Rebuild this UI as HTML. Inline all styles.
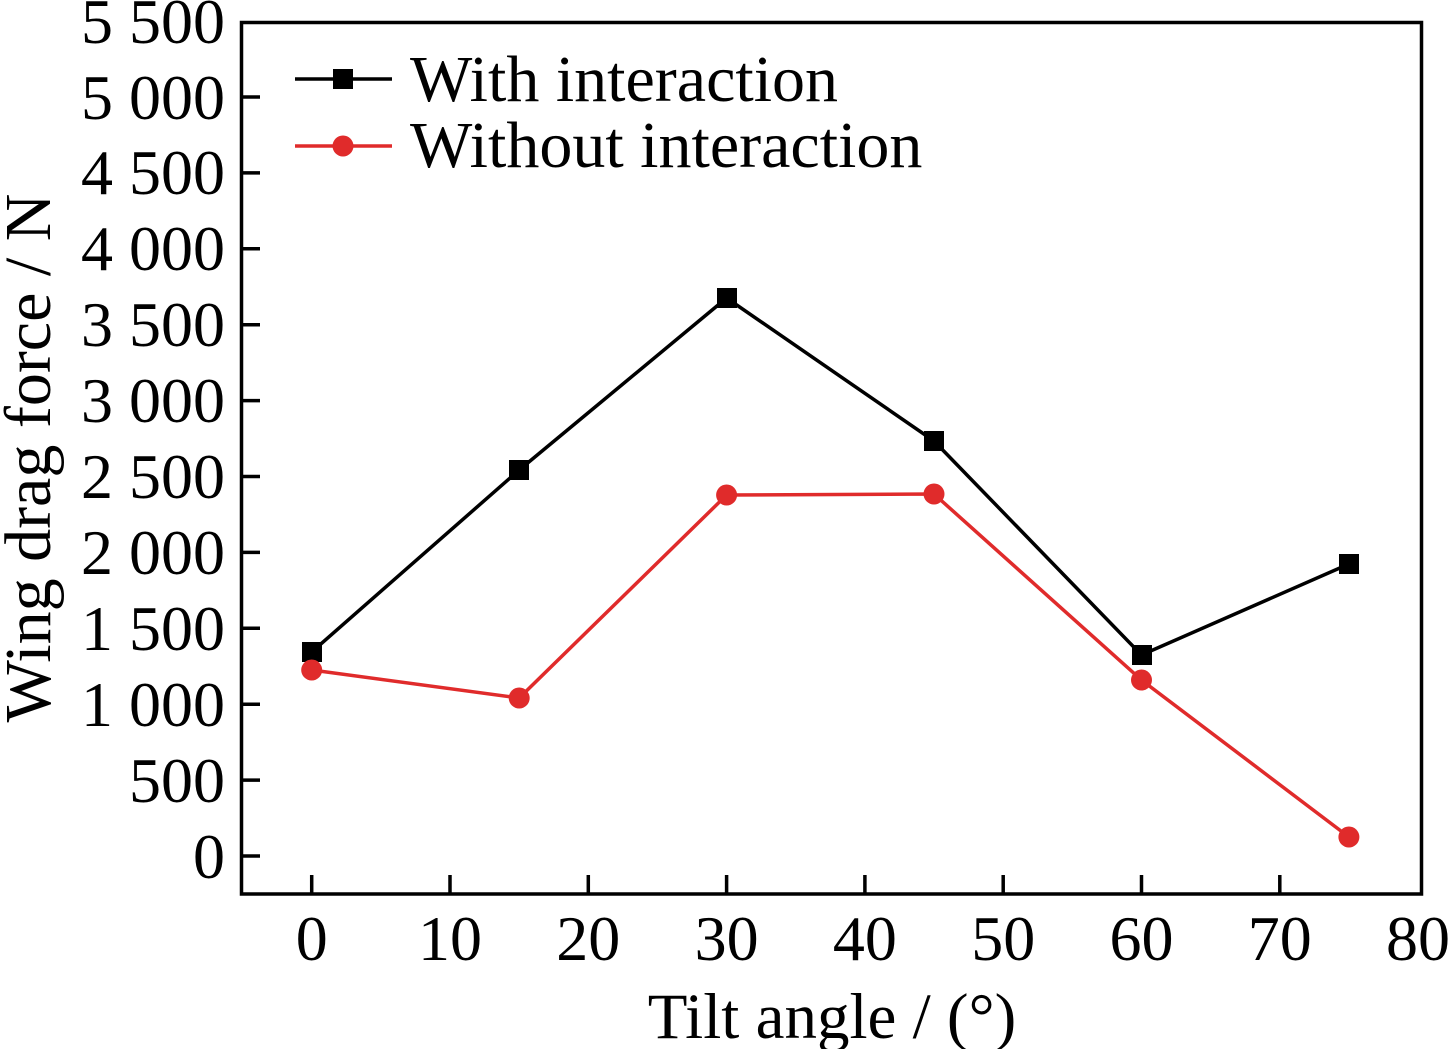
<!DOCTYPE html>
<html><head><style>body{margin:0;background:#fff}</style></head><body>
<svg width="1453" height="1049" xmlns="http://www.w3.org/2000/svg" font-family="Liberation Serif, serif">
<rect x="241.5" y="22.5" width="1180" height="871.5" fill="none" stroke="#000" stroke-width="3.5"/>
<g stroke="#000" stroke-width="3.5">
<line x1="241" y1="856" x2="260" y2="856"/><line x1="241" y1="780.1" x2="260" y2="780.1"/><line x1="241" y1="704.2" x2="260" y2="704.2"/><line x1="241" y1="628.3" x2="260" y2="628.3"/><line x1="241" y1="552.4" x2="260" y2="552.4"/><line x1="241" y1="476.5" x2="260" y2="476.5"/><line x1="241" y1="400.6" x2="260" y2="400.6"/><line x1="241" y1="324.7" x2="260" y2="324.7"/><line x1="241" y1="248.8" x2="260" y2="248.8"/><line x1="241" y1="172.9" x2="260" y2="172.9"/><line x1="241" y1="97" x2="260" y2="97"/>
<line x1="311.7" y1="894" x2="311.7" y2="875"/><line x1="450" y1="894" x2="450" y2="875"/><line x1="588.3" y1="894" x2="588.3" y2="875"/><line x1="726.6" y1="894" x2="726.6" y2="875"/><line x1="864.9" y1="894" x2="864.9" y2="875"/><line x1="1003.2" y1="894" x2="1003.2" y2="875"/><line x1="1141.5" y1="894" x2="1141.5" y2="875"/><line x1="1279.8" y1="894" x2="1279.8" y2="875"/>
</g>
<g font-size="64" text-anchor="end" fill="#000">
<text x="225" y="878">0</text><text x="225" y="802">500</text><text x="225" y="726">1 000</text><text x="225" y="650">1 500</text><text x="225" y="574">2 000</text><text x="225" y="498">2 500</text><text x="225" y="422">3 000</text><text x="225" y="346">3 500</text><text x="225" y="270">4 000</text><text x="225" y="194">4 500</text><text x="225" y="119">5 000</text><text x="225" y="43">5 500</text>
</g>
<g font-size="64" text-anchor="middle" fill="#000">
<text x="311.7" y="960">0</text><text x="450" y="960">10</text><text x="588.3" y="960">20</text><text x="726.6" y="960">30</text><text x="864.9" y="960">40</text><text x="1003.2" y="960">50</text><text x="1141.5" y="960">60</text><text x="1279.8" y="960">70</text><text x="1418" y="960">80</text>
</g>
<text x="832" y="1038" font-size="65" text-anchor="middle">Tilt angle / (°)</text>
<text transform="translate(50,458) rotate(-90)" font-size="66" text-anchor="middle">Wing drag force / N</text>
<polyline fill="none" stroke="#000" stroke-width="3.5" points="311.7,652 519.2,470 726.6,298 934,441 1141.5,655 1348.9,564"/>
<g fill="#000"><rect x="302" y="642" width="20" height="20"/><rect x="509" y="460" width="20" height="20"/><rect x="717" y="288" width="20" height="20"/><rect x="924" y="431" width="20" height="20"/><rect x="1132" y="645" width="20" height="20"/><rect x="1339" y="554" width="20" height="20"/></g>
<polyline fill="none" stroke="#e02b2b" stroke-width="3.5" points="311.7,670 519.2,698 726.6,495 934,494 1141.5,680 1348.9,837"/>
<g fill="#e02b2b"><circle cx="311.7" cy="670" r="10.5"/><circle cx="519.2" cy="698" r="10.5"/><circle cx="726.6" cy="495" r="10.5"/><circle cx="934" cy="494" r="10.5"/><circle cx="1141.5" cy="680" r="10.5"/><circle cx="1348.9" cy="837" r="10.5"/></g>
<line x1="295" y1="79" x2="392" y2="79" stroke="#000" stroke-width="3.5"/><rect x="333" y="69" width="20" height="20" fill="#000"/>
<text x="410" y="101" font-size="66">With interaction</text>
<line x1="295" y1="146" x2="392" y2="146" stroke="#e02b2b" stroke-width="3.5"/><circle cx="343" cy="146" r="10.5" fill="#e02b2b"/>
<text x="410" y="167" font-size="66">Without interaction</text>
</svg>
</body></html>
